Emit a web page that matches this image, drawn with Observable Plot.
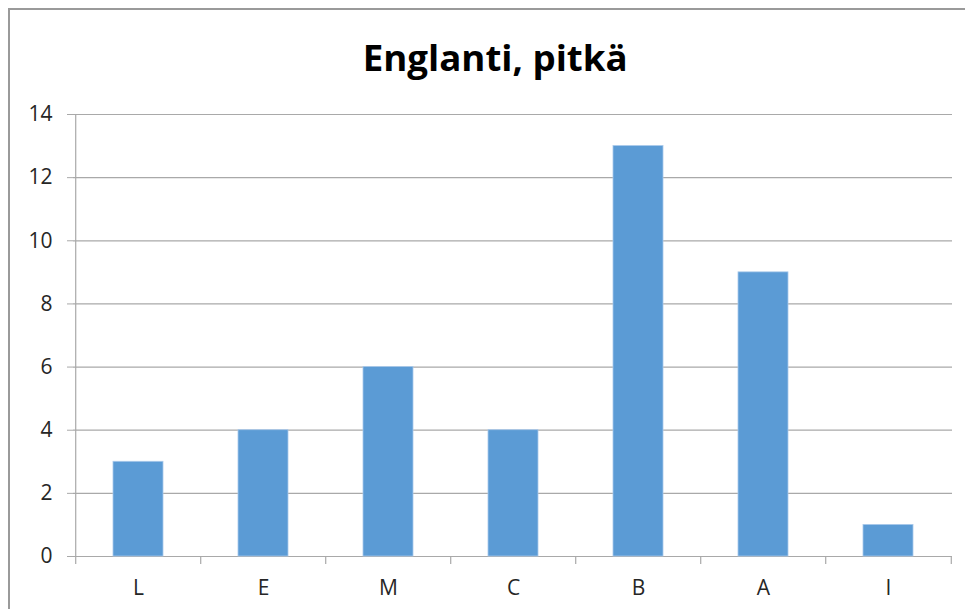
<!DOCTYPE html>
<html>
<head>
<meta charset="utf-8">
<script src="https://cdn.jsdelivr.net/npm/d3@7"></script>
<script src="https://cdn.jsdelivr.net/npm/@observablehq/plot@0.6"></script>
<style>
  html, body { margin: 0; padding: 0; background: #fff; }
  #wrap { position: relative; width: 965px; height: 609px; overflow: hidden; font-family: "Open Sans", sans-serif; }
  #border { position: absolute; left: 8px; top: 8px; width: 960px; height: 620px;
            border-top: 2px solid #9a9a9a; border-left: 2px solid #9a9a9a; box-sizing: border-box; }
  #title { position: relative; height: 95px; box-sizing: border-box; padding-top: 40px; text-align: center;
           font-size: 36px; line-height: 36px; font-weight: 700; color: #000; }
  #title span { display: inline-block; transform-origin: 50% 50%; margin-left: 25px; }
  #chart svg { display: block; }
</style>
</head>
<body>
<div id="wrap">
  <div id="border"></div>
  <div id="title"><span>Englanti, pitkä</span></div>
  <div id="chart"></div>
</div>
<script>
const categories = ["L", "E", "M", "C", "B", "A", "I"];
const values = [3, 4, 6, 4, 13, 9, 1];
const yTicks = [0, 2, 4, 6, 8, 10, 12, 14];

const data = categories.map((c, i) => ({cat: c, value: values[i]}));

const W = 965, H = 514, mL = 73, mR = 13, mT = 19, mB = 53;
const step = (W - mL - mR) / categories.length;
const gridColor = "#a9a9a9";

const chart = Plot.plot({
  width: W, height: H,
  marginLeft: mL, marginRight: mR, marginTop: mT, marginBottom: mB,
  style: {fontFamily: "'Open Sans', sans-serif", fontSize: "21px", color: "#262626", background: "#fff"},
  x: {domain: categories, paddingInner: 0.6, paddingOuter: 0.3, label: null},
  y: {domain: [0, 14], ticks: yTicks, label: null},
  marks: [
    Plot.ruleY(yTicks, {stroke: gridColor, strokeWidth: 1.2}),
    Plot.barY(data, {x: "cat", y: "value", fill: "#5b9bd5", stroke: "#a9c9ea", strokeWidth: 0.8}),
    Plot.ruleX([0], {x: () => categories[0], dx: -step / 2, y1: 0, y2: 14, stroke: gridColor, strokeWidth: 1.2}),
    Plot.ruleX(categories, {x: d => d, dx: -step / 2, y1: 0, y2: 0, insetBottom: -8, stroke: gridColor, strokeWidth: 1.2}),
    Plot.ruleX([categories[categories.length - 1]], {x: d => d, dx: step / 2, y1: 0, y2: 0, insetBottom: -8, stroke: gridColor, strokeWidth: 1.2}),
    Plot.axisY({ticks: yTicks, tickSize: 6, tickPadding: 15, stroke: gridColor, label: null, fill: "#262626"}),
    Plot.axisX({tickSize: 0, tickPadding: 24, label: null, fill: "#262626"})
  ]
});
document.getElementById("chart").appendChild(chart);

// fit the title width to the reference's condensed title
const span = document.querySelector("#title span");
const w = span.getBoundingClientRect().width;
span.style.transform = `scaleX(${265 / w})`;
</script>
</body>
</html>
